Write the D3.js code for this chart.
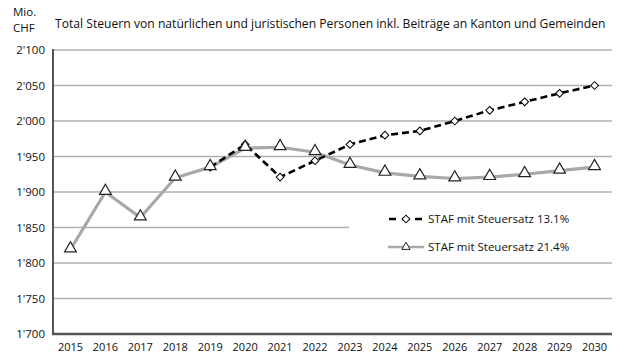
<!DOCTYPE html>
<html><head><meta charset="utf-8">
<script src="https://cdn.jsdelivr.net/npm/d3@7"></script>
<style>body{margin:0;background:#fff}svg{display:block}text{font-family:"Open Sans",sans-serif;fill:#111}</style>
</head><body><svg id="c" width="640" height="360"></svg>
<script>
const years = [2015,2016,2017,2018,2019,2020,2021,2022,2023,2024,2025,2026,2027,2028,2029,2030];
const yTicks = [1700,1750,1800,1850,1900,1950,2000,2050,2100];
const staf131Years = [2019,2020,2021,2022,2023,2024,2025,2026,2027,2028,2029,2030];
const staf131 = [1935,1967,1921,1944,1967,1980,1986,2000,2015,2027,2039,2050];
const staf214 = [1819,1900,1864,1920,1935,1962,1963,1956,1938,1927,1922,1919,1921,1925,1930,1935];
const title = "Total Steuern von natürlichen und juristischen Personen inkl. Beiträge an Kanton und Gemeinden";
const legendLabels = ["STAF mit Steuersatz 13.1%","STAF mit Steuersatz 21.4%"];

const svg = d3.select("#c");
const L=53,R=612,T=50,B=334;
const x = d3.scaleBand().domain(years).range([L,R]);
const y = d3.scaleLinear().domain([1700,2100]).range([B,T]);
const cx = d=>x(d)+x.bandwidth()/2;

svg.append("g").selectAll("line").data(yTicks.filter(d=>d>1700)).join("line")
  .attr("x1",L).attr("x2",R).attr("y1",d=>y(d)).attr("y2",d=>y(d))
  .attr("stroke","#b0b0b0").attr("stroke-width",1.5);

svg.append("g").selectAll("text").data(yTicks).join("text")
  .attr("x",45).attr("y",d=>y(d)+4).attr("text-anchor","end")
  .attr("font-size",11.5).text(d=>d3.format(",")(d).replace(",","'"));

svg.append("g").selectAll("text").data(years).join("text")
  .attr("x",d=>cx(d)).attr("y",351).attr("text-anchor","middle")
  .attr("font-size",11).text(d=>d);

svg.append("line").attr("x1",L).attr("x2",L).attr("y1",T-1).attr("y2",B+1).attr("stroke","#555").attr("stroke-width",2);
svg.append("line").attr("x1",L-1).attr("x2",R).attr("y1",B).attr("y2",B).attr("stroke","#555").attr("stroke-width",2.5);

svg.append("text").attr("x",13).attr("y",16).attr("font-size",11.5).text("Mio.");
svg.append("text").attr("x",13).attr("y",32).attr("font-size",11.5).text("CHF");
svg.append("text").attr("x",55).attr("y",28).attr("font-size",12.15).text(title);

svg.append("rect").attr("x",349).attr("y",202).attr("width",R-349+1).attr("height",55).attr("fill","#fff");

const line = d3.line().x(d=>cx(d[0])).y(d=>y(d[1]));
const d214 = years.map((yr,i)=>[yr,staf214[i]]);
const d131 = staf131Years.map((yr,i)=>[yr,staf131[i]]);

svg.append("path").attr("d",line(d214)).attr("fill","none").attr("stroke","#a8a8a8").attr("stroke-width",3.2);
svg.append("path").attr("d",line(d131)).attr("fill","none").attr("stroke","#000").attr("stroke-width",2.6).attr("stroke-dasharray","7,4");

const diamond = d3.symbol().type(d3.symbolSquare).size(30);
const tri = d3.symbol().type(d3.symbolTriangle).size(60);
svg.append("g").selectAll("path").data(d131).join("path")
  .attr("d",diamond).attr("transform",d=>`translate(${cx(d[0])},${y(d[1])}) rotate(45)`)
  .attr("fill","#fff").attr("stroke","#000").attr("stroke-width",1);
svg.append("g").selectAll("path").data(d214).join("path")
  .attr("d",tri).attr("transform",d=>`translate(${cx(d[0])},${y(d[1])-1})`)
  .attr("fill","#fff").attr("stroke","#222").attr("stroke-width",1.2);

const lg = svg.append("g");
lg.append("line").attr("x1",389).attr("x2",424).attr("y1",219).attr("y2",219).attr("stroke","#000").attr("stroke-width",2.6).attr("stroke-dasharray","7,6");
lg.append("path").attr("d",diamond).attr("transform","translate(406,219) rotate(45)").attr("fill","#fff").attr("stroke","#000");
lg.append("line").attr("x1",388).attr("x2",424).attr("y1",247).attr("y2",247).attr("stroke","#a8a8a8").attr("stroke-width",2.5);
lg.append("path").attr("d",d3.symbol().type(d3.symbolTriangle).size(30)).attr("transform","translate(406,247)").attr("fill","#fff").attr("stroke","#222");
lg.selectAll("text").data(legendLabels).join("text")
  .attr("x",428).attr("y",(d,i)=>223+i*28).attr("font-size",11.5).text(d=>d);
</script></body></html>
